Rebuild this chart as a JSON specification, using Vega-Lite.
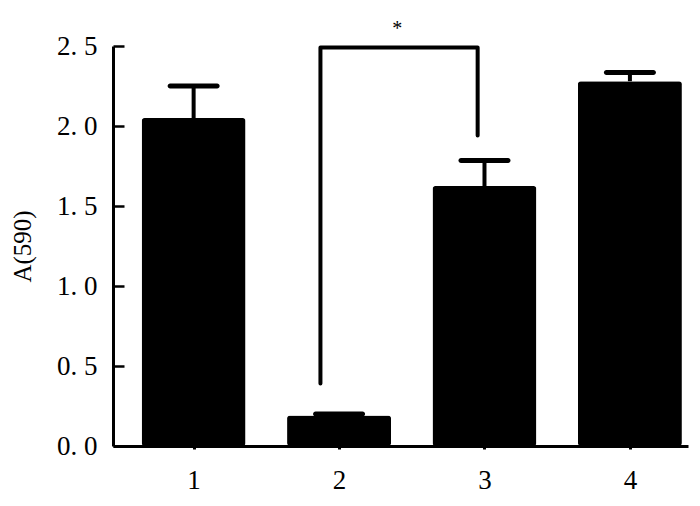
{
  "$schema": "https://vega.github.io/schema/vega-lite/v6.json",
  "autosize": "none",
  "width": 575,
  "height": 400,
  "padding": {"left": 113, "top": 46, "right": 12, "bottom": 60},
  "background": "white",
  "config": {"view": {"stroke": null}, "font": "Liberation Serif"},
  "datasets": {
    "bars": [
      {"group": 1, "mean": 2.05, "upper": 2.25},
      {"group": 2, "mean": 0.19, "upper": 0.2},
      {"group": 3, "mean": 1.625, "upper": 1.785},
      {"group": 4, "mean": 2.28, "upper": 2.335}
    ],
    "bracket": [
      {"order": 1, "bx": 1.872, "by": 0.39},
      {"order": 2, "bx": 1.872, "by": 2.49},
      {"order": 3, "bx": 2.953, "by": 2.49},
      {"order": 4, "bx": 2.953, "by": 1.94}
    ],
    "star": [{"sx": 2.4, "sy": 2.63, "label": "*"}]
  },
  "layer": [
    {
      "data": {"name": "bars"},
      "mark": {"type": "bar", "width": 104, "color": "black", "cornerRadius": 3},
      "encoding": {
        "x": {
          "field": "group", "type": "quantitative",
          "scale": {"domain": [0.48, 4.365], "nice": false, "zero": false},
          "axis": {
            "values": [1, 2, 3, 4], "format": "d", "title": null, "grid": false,
            "domainWidth": 3, "domainColor": "black", "tickSize": 3, "tickWidth": 3, "tickColor": "black",
            "labelFont": "Liberation Serif", "labelFontSize": 27, "labelColor": "black", "labelPadding": 18
          }
        },
        "y": {
          "field": "mean", "type": "quantitative",
          "scale": {"domain": [0, 2.5], "nice": false},
          "axis": {
            "values": [0, 0.5, 1, 1.5, 2, 2.5], "format": ".1f", "title": "A(590)",
            "labelExpr": "replace(datum.label, '.', '. ')",
            "grid": false, "domainWidth": 3, "domainColor": "black",
            "tickSize": -11, "tickWidth": 2.5, "tickColor": "black",
            "labelFont": "Liberation Serif", "labelFontSize": 27, "labelColor": "black", "labelPadding": 27,
            "titleFont": "Liberation Serif", "titleFontSize": 25, "titleFontWeight": "normal", "titleColor": "black", "titlePadding": 21
          }
        }
      }
    },
    {
      "data": {"name": "bars"},
      "mark": {"type": "rule", "strokeWidth": 4, "color": "black"},
      "encoding": {
        "x": {"field": "group", "type": "quantitative"},
        "y": {"field": "mean", "type": "quantitative"},
        "y2": {"field": "upper"}
      }
    },
    {
      "data": {"name": "bars"},
      "mark": {"type": "tick", "orient": "horizontal", "size": 52, "thickness": 5, "color": "black", "cornerRadius": 2.5, "opacity": 1},
      "encoding": {
        "x": {"field": "group", "type": "quantitative"},
        "y": {"field": "upper", "type": "quantitative"}
      }
    },
    {
      "data": {"name": "bracket"},
      "mark": {"type": "line", "strokeWidth": 4, "color": "black", "strokeCap": "round", "strokeJoin": "round"},
      "encoding": {
        "x": {"field": "bx", "type": "quantitative"},
        "y": {"field": "by", "type": "quantitative"},
        "order": {"field": "order", "type": "quantitative"}
      }
    },
    {
      "data": {"name": "star"},
      "mark": {"type": "text", "fontSize": 20, "font": "Liberation Serif", "color": "black", "baseline": "middle", "align": "center", "dy": 4},
      "encoding": {
        "x": {"field": "sx", "type": "quantitative"},
        "y": {"field": "sy", "type": "quantitative"},
        "text": {"field": "label"}
      }
    }
  ]
}
